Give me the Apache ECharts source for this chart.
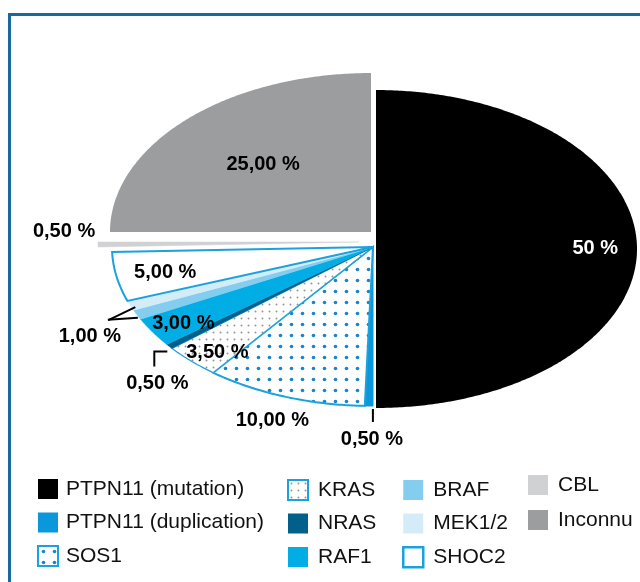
<!DOCTYPE html>
<html>
<head>
<meta charset="UTF-8">
<script src="https://cdn.jsdelivr.net/npm/echarts@6/dist/echarts.min.js"></script>
<style>
    html, body { margin: 0; padding: 0; background: #ffffff; }
    #frame { position: absolute; left: 8px; top: 13px; width: 640px; height: 582px;
             border-top: 3px solid #176a9b; border-left: 3px solid #176a9b; box-sizing: border-box; }
    #pie { position: absolute; left: 0; top: 0; width: 640px; height: 582px; }
</style>
</head>
<body>
<div id="frame"></div>
<div id="pie"></div>
<script type="text/javascript">
// Data, clockwise from 12 o'clock.
const categories = ['PTPN11 (mutation)', 'PTPN11 (duplication)', 'SOS1', 'KRAS', 'NRAS',
                    'RAF1', 'BRAF', 'MEK1/2', 'SHOC2', 'CBL', 'Inconnu'];
const shares = [50, 0.5, 10, 3.5, 0.5, 3, 1, 1, 5, 0.5, 25];
// Legend columns (indexes into categories).
const legendColumns = [[0, 1, 2], [3, 4, 5], [6, 7, 8], [9, 10]];

const font = '"Liberation Sans", Arial, Helvetica, sans-serif';
const blueLine = '#1ba1dd';

function dotPattern(size, r, color) {
    const c = document.createElement('canvas');
    c.width = size; c.height = size;
    const g = c.getContext('2d');
    g.fillStyle = '#ffffff';
    g.fillRect(0, 0, size, size);
    g.fillStyle = color;
    g.beginPath();
    g.arc(size / 2, size / 2, r, 0, 2 * Math.PI);
    g.fill();
    return { image: c, repeat: 'repeat' };
}
const sosFill = dotPattern(11, 1.8, '#1586cb');
const krasFill = dotPattern(7, 1, '#959595');

// Ellipse geometry (the original is a flattened pie).
const cx = 373, cy = 247, rx = 261, ry = 159;

// Per slice look: fill, stroke, offset (explode), label placement, leader line.
const sliceStyle = [
    { fill: '#000000', off: [3, 2], label: { r: 0.84, dx: 0, dy: -1, color: '#ffffff' } },
    { fill: '#0b97db', stroke: '#0b97db', lw: 1, off: [0, 0], label: { r: 1, dx: 3, dy: 34 }, leader: [[4, 3], [4, 16]] },
    { fill: sosFill, stroke: blueLine, lw: 2, off: [0, 0], label: { r: 1.15, dx: 1, dy: 1 } },
    { fill: krasFill, stroke: blueLine, lw: 1.2, off: [0, 0], label: { r: 0.89, dx: 6, dy: 4 } },
    { fill: '#015f8b', stroke: '#015f8b', lw: 0.5, off: [0, 0], label: { r: 1, dx: -12, dy: 37 }, leader: [[-2, 5], [-15, 5], [-15, 20]] },
    { fill: '#00ade5', stroke: '#00ade5', lw: 0.5, off: [0, 0], label: { r: 0.87, dx: 2, dy: 2 } },
    { fill: '#84cdee', stroke: '#84cdee', lw: 0.5, off: [0, 0], label: { r: 1, dx: -47, dy: 22 }, leader: [[1, 3], [-29, 5]] },
    { fill: '#d3ecf8', stroke: '#d3ecf8', lw: 0.5, off: [0, 0], leader: [[5, 1.5], [-22, 14.5]] },
    { fill: '#ffffff', stroke: blueLine, lw: 2, off: [0, 0], label: { r: 0.83, dx: 5, dy: 1 } },
    { fill: '#d0d1d3', stroke: '#d0d1d3', lw: 0.5, off: [-14, -5], label: { r: 1, dx: -34, dy: -13 } },
    { fill: '#9c9d9f', off: [-2, -15], label: { r: 0.59, dx: 1, dy: -1 } }
];

const legendIcon = [
    { color: '#000000' },
    { color: '#0b97db' },
    { color: sosFill, borderColor: blueLine, borderWidth: 2 },
    { color: krasFill, borderColor: blueLine, borderWidth: 2 },
    { color: '#015f8b' },
    { color: '#00ade5' },
    { color: '#84cdee' },
    { color: '#d3ecf8' },
    { color: '#ffffff', borderColor: blueLine, borderWidth: 2.5 },
    { color: '#d0d1d3' },
    { color: '#9c9d9f' }
];
const legendLeft = [37, 287, 402, 528];
const legendTop = [478, 479, 479, 474];
const legendGap = [11.5, 11.5, 11.5, 13];

function fmt(v) {
    return (Number.isInteger(v) && v >= 50 ? String(v) : v.toFixed(2).replace('.', ',')) + ' %';
}

function renderSlice(i) {
    return function (params, api) {
        const total = shares.reduce((a, b) => a + b, 0);
        let before = 0;
        for (let k = 0; k < i; k++) before += shares[k];
        const v = api.value(0);
        const a0 = before / total * 2 * Math.PI;
        const a1 = (before + v) / total * 2 * Math.PI;
        const st = sliceStyle[i];
        const ox = cx + st.off[0], oy = cy + st.off[1];
        const pt = (a, r) => [ox + rx * r * Math.sin(a), oy - ry * r * Math.cos(a)];

        const pts = [[ox, oy]];
        const n = Math.max(2, Math.ceil((a1 - a0) / 0.01));
        for (let s = 0; s <= n; s++) pts.push(pt(a0 + (a1 - a0) * s / n, 1));

        const children = [{
            type: 'polygon',
            shape: { points: pts },
            style: { fill: st.fill, stroke: st.stroke || null, lineWidth: st.lw || 0, lineJoin: 'miter' }
        }];

        const mid = (a0 + a1) / 2;
        const rim = pt(mid, 1);
        if (st.leader) {
            children.push({
                type: 'polyline',
                shape: { points: st.leader.map(p => [rim[0] + p[0], rim[1] + p[1]]) },
                style: { stroke: '#000000', lineWidth: 2, fill: null },
                z2: 10
            });
        }
        if (st.label) {
            const p = pt(mid, st.label.r);
            children.push({
                type: 'text',
                x: p[0] + st.label.dx,
                y: p[1] + st.label.dy,
                style: {
                    text: fmt(v),
                    fill: st.label.color || '#000000',
                    font: 'bold 20px ' + font,
                    align: 'center',
                    verticalAlign: 'middle'
                },
                z2: 20
            });
        }
        return { type: 'group', children: children };
    };
}

const chart = echarts.init(document.getElementById('pie'));

const option = {
    animation: false,
    backgroundColor: 'transparent',
    legend: legendColumns.map((col, j) => ({
        orient: 'vertical',
        left: legendLeft[j],
        top: legendTop[j],
        padding: 0,
        itemWidth: 20,
        itemHeight: 20,
        itemGap: legendGap[j],
        icon: 'rect',
        selectedMode: false,
        data: col.map(i => ({ name: categories[i], itemStyle: legendIcon[i] })),
        textStyle: { fontSize: 21, lineHeight: 22, color: '#111111', fontFamily: font,
                     padding: [0, 0, 0, j === 0 ? 3 : 5] }
    })),
    series: categories.map((name, i) => ({
        name: name,
        type: 'custom',
        coordinateSystem: 'none',
        itemStyle: { color: legendIcon[i].color },
        data: [[shares[i]]],
        renderItem: renderSlice(i),
        z: i === 0 ? 1 : 2
    }))
};

chart.setOption(option);
</script>
</body>
</html>
